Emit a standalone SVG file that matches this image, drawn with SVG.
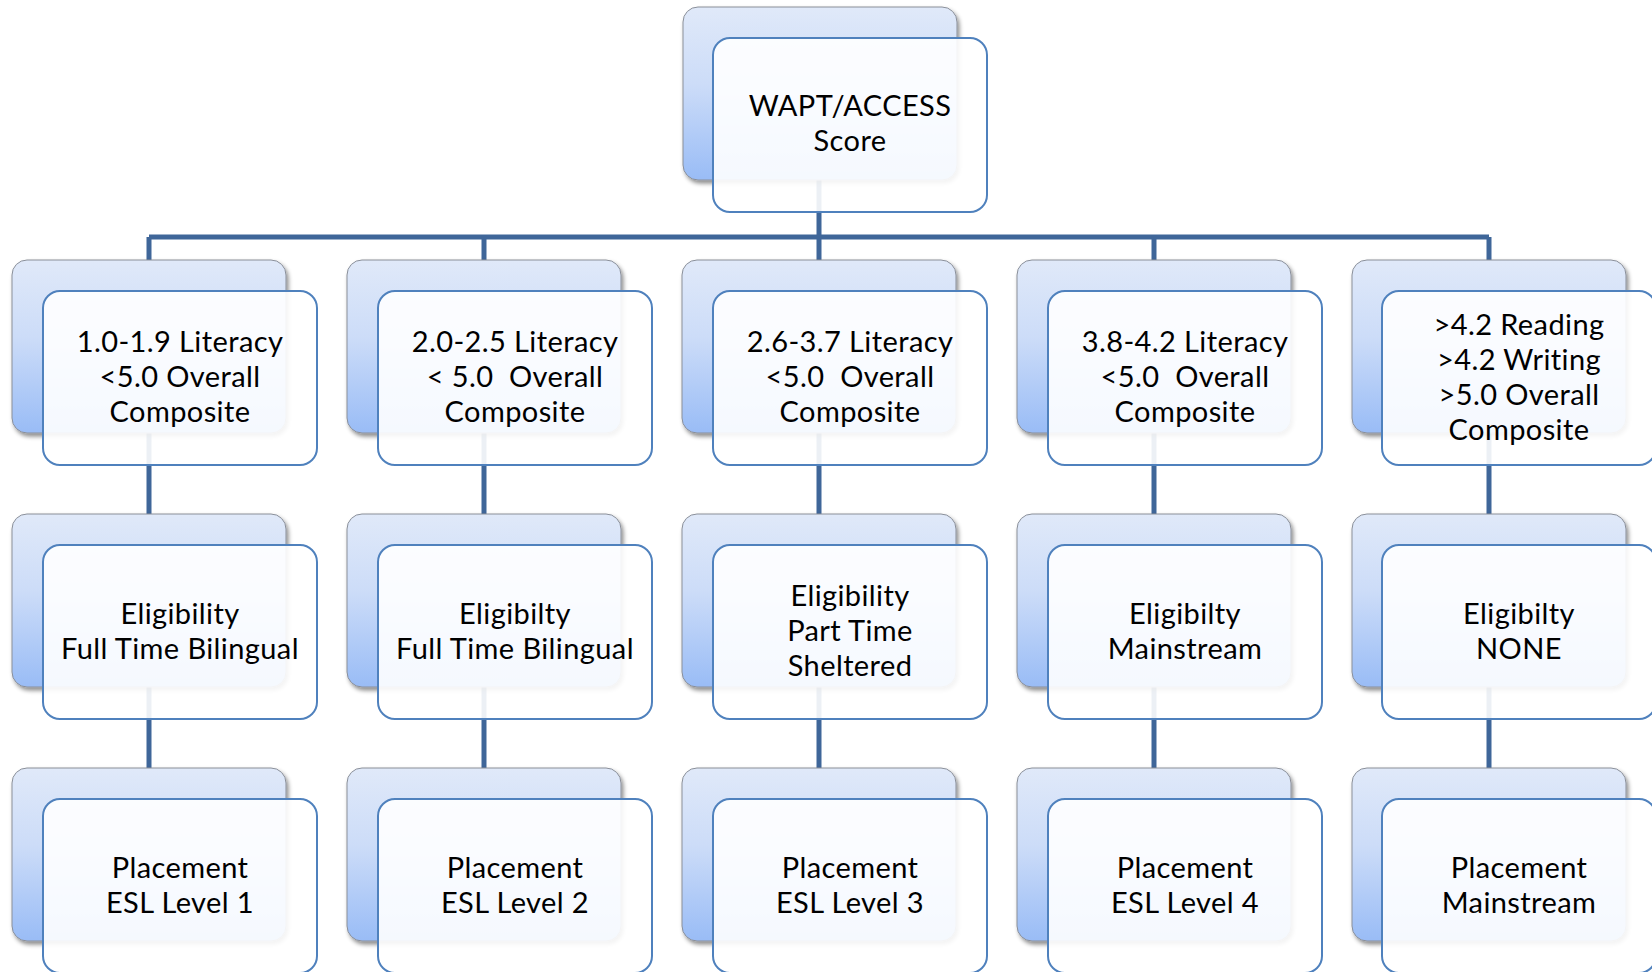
<svg xmlns="http://www.w3.org/2000/svg" width="1652" height="972" viewBox="0 0 1652 972">
<defs>
<linearGradient id="backGrad" x1="0" y1="0" x2="0" y2="1">
<stop offset="0" stop-color="#E0E9F9"/>
<stop offset="0.45" stop-color="#CCDCF8"/>
<stop offset="1" stop-color="#99BCF6"/>
</linearGradient>
<filter id="shadow" x="-10%" y="-10%" width="125%" height="125%">
<feDropShadow dx="2" dy="3" stdDeviation="2.2" flood-color="#000" flood-opacity="0.45"/>
</filter>
<style>
.back{fill:url(#backGrad);stroke:#8A8F99;stroke-width:1;filter:url(#shadow)}
.front{fill:#FFFFFF;fill-opacity:0.9;stroke:#4F81BD;stroke-width:2}
.conn{stroke:#3F6699;stroke-width:5;fill:none}
text{font-family:Lato,"Liberation Sans",sans-serif;font-size:29px;letter-spacing:0.4px;fill:#000;text-anchor:middle;white-space:pre}
</style>
</defs>
<rect width="1652" height="972" fill="#FFFFFF"/>
<g id="connectors">
<path class="conn" d="M819 180V237M149 237H1489M149 237V260M484 237V260M819 237V260M1154 237V260M1489 237V260"/>
<path class="conn" d="M149 433V514M484 433V514M819 433V514M1154 433V514M1489 433V514"/>
<path class="conn" d="M149 687V768M484 687V768M819 687V768M1154 687V768M1489 687V768"/>
</g>
<g id="node-top">
<rect class="back" x="683" y="7" width="274" height="173" rx="15"/>
<rect class="front" x="713" y="38" width="274" height="174" rx="17"/>
<text x="850" y="116">WAPT/ACCESS</text>
<text x="850" y="151">Score</text>
</g>
<g id="node-r1c1">
<rect class="back" x="12" y="260" width="274" height="173" rx="15"/>
<rect class="front" x="43" y="291" width="274" height="174" rx="17"/>
<text x="180" y="352">1.0-1.9 Literacy</text>
<text x="180" y="387">&lt;5.0 Overall</text>
<text x="180" y="422">Composite</text>
</g>
<g id="node-r1c2">
<rect class="back" x="347" y="260" width="274" height="173" rx="15"/>
<rect class="front" x="378" y="291" width="274" height="174" rx="17"/>
<text x="515" y="352">2.0-2.5 Literacy</text>
<text x="515" y="387">&lt; 5.0  Overall</text>
<text x="515" y="422">Composite</text>
</g>
<g id="node-r1c3">
<rect class="back" x="682" y="260" width="274" height="173" rx="15"/>
<rect class="front" x="713" y="291" width="274" height="174" rx="17"/>
<text x="850" y="352">2.6-3.7 Literacy</text>
<text x="850" y="387">&lt;5.0  Overall</text>
<text x="850" y="422">Composite</text>
</g>
<g id="node-r1c4">
<rect class="back" x="1017" y="260" width="274" height="173" rx="15"/>
<rect class="front" x="1048" y="291" width="274" height="174" rx="17"/>
<text x="1185" y="352">3.8-4.2 Literacy</text>
<text x="1185" y="387">&lt;5.0  Overall</text>
<text x="1185" y="422">Composite</text>
</g>
<g id="node-r1c5">
<rect class="back" x="1352" y="260" width="274" height="173" rx="15"/>
<rect class="front" x="1382" y="291" width="274" height="174" rx="17"/>
<text x="1519" y="335">&gt;4.2 Reading</text>
<text x="1519" y="370">&gt;4.2 Writing</text>
<text x="1519" y="405">&gt;5.0 Overall</text>
<text x="1519" y="440">Composite</text>
</g>
<g id="node-r2c1">
<rect class="back" x="12" y="514" width="274" height="173" rx="15"/>
<rect class="front" x="43" y="545" width="274" height="174" rx="17"/>
<text x="180" y="624">Eligibility</text>
<text x="180" y="659">Full Time Bilingual</text>
</g>
<g id="node-r2c2">
<rect class="back" x="347" y="514" width="274" height="173" rx="15"/>
<rect class="front" x="378" y="545" width="274" height="174" rx="17"/>
<text x="515" y="624">Eligibilty</text>
<text x="515" y="659">Full Time Bilingual</text>
</g>
<g id="node-r2c3">
<rect class="back" x="682" y="514" width="274" height="173" rx="15"/>
<rect class="front" x="713" y="545" width="274" height="174" rx="17"/>
<text x="850" y="606">Eligibility</text>
<text x="850" y="641">Part Time</text>
<text x="850" y="676">Sheltered</text>
</g>
<g id="node-r2c4">
<rect class="back" x="1017" y="514" width="274" height="173" rx="15"/>
<rect class="front" x="1048" y="545" width="274" height="174" rx="17"/>
<text x="1185" y="624">Eligibilty</text>
<text x="1185" y="659">Mainstream</text>
</g>
<g id="node-r2c5">
<rect class="back" x="1352" y="514" width="274" height="173" rx="15"/>
<rect class="front" x="1382" y="545" width="274" height="174" rx="17"/>
<text x="1519" y="624">Eligibilty</text>
<text x="1519" y="659">NONE</text>
</g>
<g id="node-r3c1">
<rect class="back" x="12" y="768" width="274" height="173" rx="15"/>
<rect class="front" x="43" y="799" width="274" height="174" rx="17"/>
<text x="180" y="878">Placement</text>
<text x="180" y="913">ESL Level 1</text>
</g>
<g id="node-r3c2">
<rect class="back" x="347" y="768" width="274" height="173" rx="15"/>
<rect class="front" x="378" y="799" width="274" height="174" rx="17"/>
<text x="515" y="878">Placement</text>
<text x="515" y="913">ESL Level 2</text>
</g>
<g id="node-r3c3">
<rect class="back" x="682" y="768" width="274" height="173" rx="15"/>
<rect class="front" x="713" y="799" width="274" height="174" rx="17"/>
<text x="850" y="878">Placement</text>
<text x="850" y="913">ESL Level 3</text>
</g>
<g id="node-r3c4">
<rect class="back" x="1017" y="768" width="274" height="173" rx="15"/>
<rect class="front" x="1048" y="799" width="274" height="174" rx="17"/>
<text x="1185" y="878">Placement</text>
<text x="1185" y="913">ESL Level 4</text>
</g>
<g id="node-r3c5">
<rect class="back" x="1352" y="768" width="274" height="173" rx="15"/>
<rect class="front" x="1382" y="799" width="274" height="174" rx="17"/>
<text x="1519" y="878">Placement</text>
<text x="1519" y="913">Mainstream</text>
</g>
</svg>
